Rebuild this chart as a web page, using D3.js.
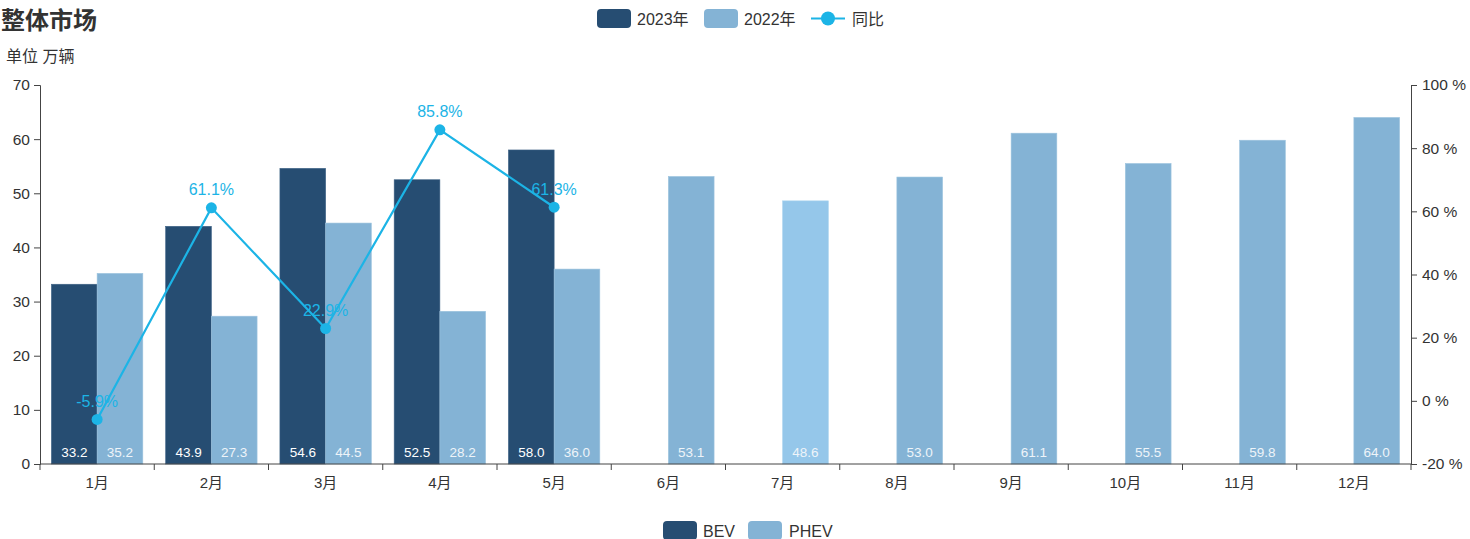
<!DOCTYPE html>
<html><head><meta charset="utf-8">
<script src="https://cdn.jsdelivr.net/npm/d3@7"></script>
<style>
body{margin:0;background:#fff;}
svg{display:block;font-family:"Liberation Sans","Noto Sans CJK SC",sans-serif;}
</style></head>
<body>
<svg id="c" width="1470" height="539"></svg>
<script>
const months = ["1月","2月","3月","4月","5月","6月","7月","8月","9月","10月","11月","12月"];
const sales2023 = [33.2, 43.9, 54.6, 52.5, 58.0];
const sales2022 = [35.2, 27.3, 44.5, 28.2, 36.0, 53.1, 48.6, 53.0, 61.1, 55.5, 59.8, 64.0];
const yoy = [-5.9, 61.1, 22.9, 85.8, 61.3];
const leftTicks = [0,10,20,30,40,50,60,70];
const rightTicks = [-20,0,20,40,60,80,100];

const C_DARK = "#264d72", C_LIGHT = "#84b3d5", C_HOVER = "#95c7ea", C_LINE = "#1cb4e6";
const svg = d3.select("#c");
const L = 40, R = 1411, T = 85, B = 464;

const x = d3.scaleBand().domain(months).range([L, R]);
const y = d3.scaleLinear().domain([0,70]).range([B, T]);
const y2 = d3.scaleLinear().domain([-20,100]).range([B, T]);
const bw = x.bandwidth() * 0.4;

// title
svg.append("text").attr("x",1).attr("y",29).attr("font-size",24).attr("font-weight","bold").attr("fill","#333").text("整体市场");
svg.append("text").attr("x",6).attr("y",62).attr("font-size",16).attr("fill","#333").text("单位 万辆");

// axes
const axL = svg.append("g").attr("transform",`translate(${L},0)`).call(d3.axisLeft(y).tickValues(leftTicks).tickSize(6).tickPadding(4));
const axR = svg.append("g").attr("transform",`translate(${R},0)`).call(d3.axisRight(y2).tickValues(rightTicks).tickSize(6).tickPadding(5).tickFormat(d=>d+" %"));
[axL,axR].forEach(a=>{a.selectAll("path,line").attr("stroke","#444");a.selectAll("text").attr("font-size",15.5).attr("fill","#333").attr("font-family",null);});

// bars
const g = svg.append("g");
g.selectAll(".b23").data(sales2023).join("rect")
  .attr("x",(d,i)=>x(months[i])+x.bandwidth()/2-bw).attr("width",bw)
  .attr("y",d=>y(d)).attr("height",d=>B-y(d))
  .attr("fill",C_DARK).attr("stroke","#3d6185").attr("stroke-width",0.6);
g.selectAll(".b22").data(sales2022).join("rect")
  .attr("x",(d,i)=>x(months[i])+x.bandwidth()/2).attr("width",bw)
  .attr("y",d=>y(d)).attr("height",d=>B-y(d))
  .attr("fill",(d,i)=>i===6?C_HOVER:C_LIGHT).attr("stroke",(d,i)=>i===6?"#aad3ef":"#9cc3de").attr("stroke-width",0.6);

// bar labels
g.selectAll(".l23").data(sales2023).join("text")
  .attr("x",(d,i)=>x(months[i])+x.bandwidth()/2-bw/2).attr("y",B-7)
  .attr("text-anchor","middle").attr("font-size",13.5).attr("fill","#fff").text(d=>d.toFixed(1));
g.selectAll(".l22").data(sales2022).join("text")
  .attr("x",(d,i)=>x(months[i])+x.bandwidth()/2+bw/2).attr("y",B-7)
  .attr("text-anchor","middle").attr("font-size",13.5).attr("fill","#eef4f9").text(d=>d.toFixed(1));

// x axis
const axX = svg.append("g").attr("transform",`translate(0,${B})`);
axX.append("line").attr("x1",L).attr("x2",R).attr("stroke","#444");
const bounds = months.map(m=>x(m)).concat([R]);
axX.selectAll(".tk").data(bounds).join("line").attr("x1",d=>d).attr("x2",d=>d).attr("y1",0).attr("y2",6).attr("stroke","#444");
axX.selectAll(".tl").data(months).join("text").attr("x",d=>x(d)+x.bandwidth()/2).attr("y",24)
  .attr("text-anchor","middle").attr("font-size",15).attr("fill","#333").text(d=>d);

// line
const cx = i => x(months[i]) + x.bandwidth()/2;
svg.append("path").datum(yoy).attr("fill","none").attr("stroke",C_LINE).attr("stroke-width",2.2)
  .attr("d", d3.line().x((d,i)=>cx(i)).y(d=>y2(d)));
svg.selectAll(".pt").data(yoy).join("circle").attr("cx",(d,i)=>cx(i)).attr("cy",d=>y2(d)).attr("r",5.5).attr("fill",C_LINE);
svg.selectAll(".pl").data(yoy).join("text").attr("x",(d,i)=>cx(i)).attr("y",d=>y2(d)-12.5)
  .attr("text-anchor","middle").attr("font-size",16).attr("fill",C_LINE).text(d=>d.toFixed(1)+"%");

// top legend
const lg = svg.append("g").attr("font-size",16).attr("fill","#333");
lg.append("rect").attr("x",597).attr("y",9).attr("width",34).attr("height",19).attr("rx",4).attr("fill",C_DARK);
lg.append("text").attr("x",637).attr("y",24.5).attr("fill","#333").text("2023年");
lg.append("rect").attr("x",704).attr("y",9).attr("width",34).attr("height",19).attr("rx",4).attr("fill",C_LIGHT);
lg.append("text").attr("x",744).attr("y",24.5).attr("fill","#333").text("2022年");
lg.append("line").attr("x1",811).attr("x2",845).attr("y1",18.5).attr("y2",18.5).attr("stroke",C_LINE).attr("stroke-width",2);
lg.append("circle").attr("cx",828).attr("cy",18.5).attr("r",7).attr("fill",C_LINE);
lg.append("text").attr("x",852).attr("y",24.5).attr("fill","#333").text("同比");

// bottom legend
const bl = svg.append("g").attr("font-size",16);
bl.append("rect").attr("x",663).attr("y",521).attr("width",34).attr("height",19).attr("rx",4).attr("fill",C_DARK);
bl.append("text").attr("x",703).attr("y",537).attr("fill","#333").text("BEV");
bl.append("rect").attr("x",748).attr("y",521).attr("width",34).attr("height",19).attr("rx",4).attr("fill",C_LIGHT);
bl.append("text").attr("x",789).attr("y",537).attr("fill","#333").text("PHEV");
</script>
</body></html>
